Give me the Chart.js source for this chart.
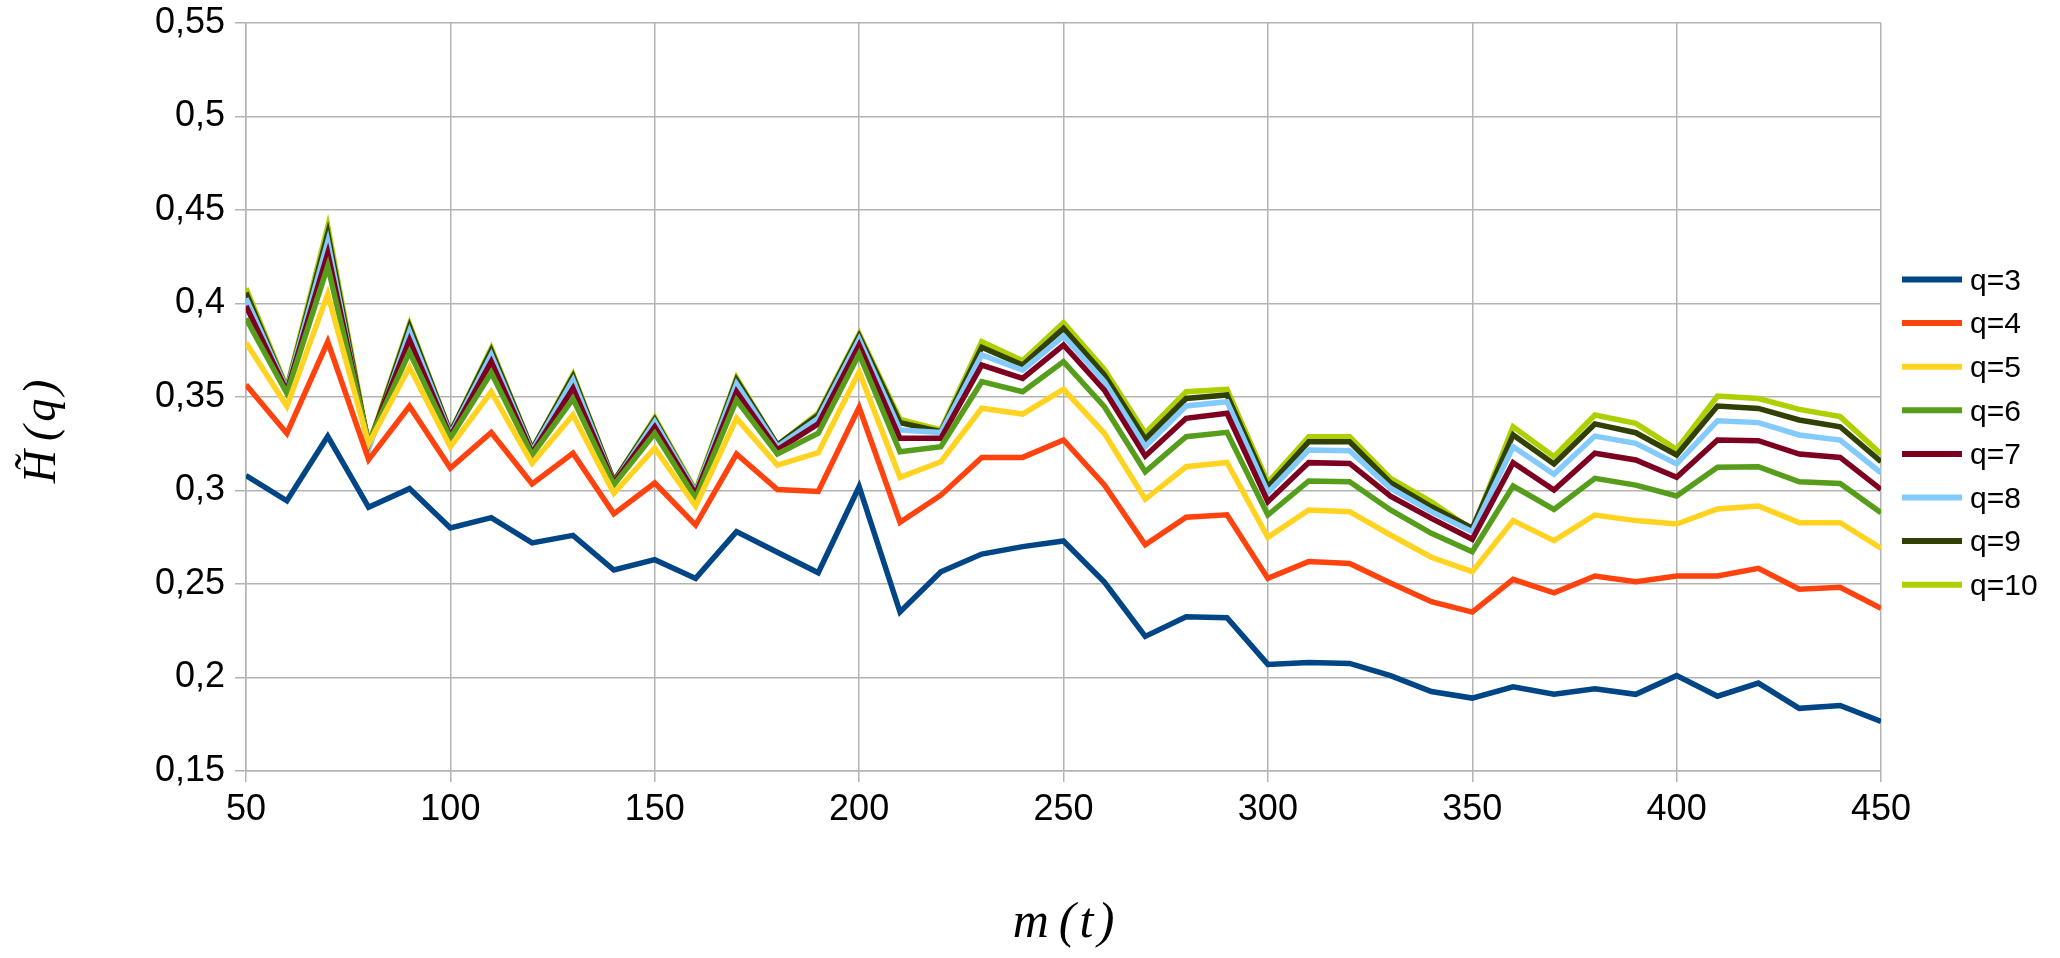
<!DOCTYPE html>
<html>
<head>
<meta charset="utf-8">
<script src="https://cdn.jsdelivr.net/npm/chart.js@4.4.1/dist/chart.umd.min.js"></script>
<style>
html,body{margin:0;padding:0;background:#fff;}
#wrap{position:relative;width:2060px;height:958px;}
</style>
</head>
<body>
<div id="wrap"><canvas id="c" width="2060" height="958"></canvas></div>
<script>
const mValues = [50,60,70,80,90,100,110,120,130,140,150,160,170,180,190,200,210,220,230,240,250,260,270,280,290,300,310,320,330,340,350,360,370,380,390,400,410,420,430,440,450];

const q3 = [0.308,0.2945,0.329,0.291,0.301,0.280,0.2855,0.272,0.276,0.2575,0.263,0.253,0.278,0.267,0.256,0.302,0.235,0.2565,0.266,0.270,0.273,0.251,0.222,0.2325,0.232,0.207,0.208,0.2075,0.201,0.1925,0.189,0.195,0.191,0.194,0.191,0.201,0.190,0.197,0.1835,0.185,0.1765];
const q4 = [0.3565,0.3305,0.3795,0.3165,0.345,0.312,0.331,0.3035,0.320,0.2875,0.304,0.2815,0.3195,0.3005,0.2995,0.3445,0.283,0.2975,0.3177,0.3177,0.327,0.303,0.271,0.2857,0.287,0.253,0.262,0.261,0.2505,0.2405,0.235,0.2525,0.2453,0.2543,0.2512,0.2543,0.2543,0.2584,0.2472,0.2482,0.237];
const q5 = [0.379,0.345,0.405,0.325,0.366,0.3234,0.3528,0.3146,0.3404,0.2985,0.3226,0.2917,0.3386,0.3136,0.3202,0.3635,0.307,0.3154,0.344,0.3409,0.3541,0.3306,0.2953,0.3127,0.315,0.275,0.2896,0.2887,0.2762,0.2643,0.2566,0.2839,0.2732,0.2869,0.2839,0.2821,0.2901,0.2917,0.2828,0.2828,0.2691];
const q6 = [0.392,0.352,0.420,0.326,0.374,0.328,0.363,0.319,0.349,0.303,0.3306,0.2958,0.3484,0.3195,0.3306,0.373,0.3207,0.3234,0.3582,0.3528,0.3689,0.3448,0.310,0.3288,0.3311,0.2869,0.3051,0.3047,0.2896,0.2771,0.2673,0.3024,0.2899,0.3065,0.3029,0.2971,0.3124,0.3127,0.3047,0.3038,0.2881];
const q7 = [0.3987,0.353,0.4268,0.325,0.3805,0.329,0.3689,0.320,0.3546,0.304,0.334,0.298,0.3528,0.3217,0.3356,0.3778,0.3279,0.3279,0.3671,0.360,0.3778,0.3537,0.3184,0.3386,0.3413,0.294,0.3149,0.3145,0.297,0.2851,0.2739,0.3149,0.3003,0.3199,0.3163,0.3071,0.327,0.3266,0.3195,0.3177,0.3006];
const q8 = [0.4028,0.354,0.433,0.322,0.385,0.330,0.3725,0.321,0.359,0.304,0.3368,0.299,0.357,0.3234,0.3386,0.3809,0.3324,0.331,0.3725,0.3644,0.3826,0.3582,0.3234,0.3452,0.3475,0.2988,0.3217,0.3213,0.3012,0.2887,0.278,0.3234,0.3087,0.3291,0.3252,0.3142,0.3373,0.3363,0.3297,0.327,0.3095];
const q9 = [0.4058,0.354,0.4375,0.323,0.3876,0.331,0.3748,0.322,0.361,0.305,0.338,0.299,0.3591,0.3243,0.3404,0.3826,0.3363,0.3314,0.3766,0.3671,0.3867,0.3618,0.3274,0.3492,0.3511,0.302,0.3261,0.3261,0.3042,0.2913,0.2798,0.3297,0.3142,0.3356,0.3309,0.319,0.3452,0.3439,0.3377,0.3341,0.3154];
const q10 = [0.4081,0.355,0.4411,0.324,0.389,0.331,0.376,0.322,0.362,0.305,0.339,0.300,0.3603,0.3243,0.3413,0.3837,0.338,0.3324,0.3796,0.3694,0.3897,0.3648,0.3306,0.3528,0.3541,0.3042,0.3288,0.3288,0.3065,0.294,0.279,0.3341,0.3181,0.3404,0.3359,0.322,0.3505,0.3492,0.3434,0.3395,0.3195];

const seriesNames = ['q=3','q=4','q=5','q=6','q=7','q=8','q=9','q=10'];
const seriesValues = [q3,q4,q5,q6,q7,q8,q9,q10];
const seriesColors = ['#004586','#ff420e','#ffd320','#579d1c','#7e0021','#83caff','#314004','#aecf00'];

const xTicks = [50,100,150,200,250,300,350,400,450];
const yTicks = [0.15,0.2,0.25,0.3,0.35,0.4,0.45,0.5,0.55];
const yTickLabels = ['0,15','0,2','0,25','0,3','0,35','0,4','0,45','0,5','0,55'];

const datasets = seriesNames.map((name, i) => ({
  label: name,
  data: mValues.map((m, j) => ({x: m, y: seriesValues[i][j]})),
  borderColor: seriesColors[i],
  backgroundColor: seriesColors[i],
  borderWidth: 5.5,
  pointRadius: 0,
  tension: 0,
  fill: false,
  borderJoinStyle: 'miter'
}));

const customLegend = {
  id: 'customLegend',
  afterDraw(chart) {
    const ctx = chart.ctx;
    ctx.save();
    ctx.font = '30px "Liberation Sans", Arial, sans-serif';
    ctx.textBaseline = 'middle';
    ctx.textAlign = 'left';
    chart.data.datasets.forEach((ds, i) => {
      const y = 279.5 + i * 43.6;
      ctx.strokeStyle = ds.borderColor;
      ctx.lineWidth = 6;
      ctx.beginPath();
      ctx.moveTo(1902, y);
      ctx.lineTo(1962, y);
      ctx.stroke();
      ctx.fillStyle = '#000';
      ctx.fillText(ds.label, 1970, y + 2);
    });
    ctx.restore();
  }
};

new Chart(document.getElementById('c'), {
  type: 'line',
  data: { datasets },
  plugins: [customLegend],
  options: {
    responsive: false,
    animation: false,
    layout: { padding: { left: 0, right: 179, top: 23, bottom: 0 } },
    plugins: { legend: { display: false }, tooltip: { enabled: false } },
    scales: {
      x: {
        type: 'linear',
        min: 50, max: 450,
        afterFit: s => { s.height = 187; s.paddingLeft = 0; s.paddingRight = 0; },
        afterBuildTicks: s => { s.ticks = xTicks.map(v => ({value: v})); },
        grid: { color: '#b3b3b3', lineWidth: 1.5, tickLength: 11, drawTicks: true },
        border: { color: '#b3b3b3', width: 1.5 },
        ticks: {
          color: '#000',
          font: { family: '"Liberation Sans", Arial, sans-serif', size: 36 },
          padding: 6,
          maxRotation: 0,
          callback: v => String(v)
        },
        title: {
          display: true,
          text: 'm\u2009(\u200At\u200A)',
          color: '#000',
          font: { family: '"Liberation Serif", "DejaVu Serif", serif', size: 50, style: 'italic' },
          padding: { top: 0, bottom: 4 }
        }
      },
      y: {
        type: 'linear',
        min: 0.15, max: 0.55,
        afterFit: s => { s.width = 246; s.paddingTop = 0; s.paddingBottom = 0; },
        afterBuildTicks: s => { s.ticks = yTicks.map(v => ({value: v})); },
        grid: { color: '#b3b3b3', lineWidth: 1.5, tickLength: 11 },
        border: { color: '#b3b3b3', width: 1.5 },
        ticks: {
          color: '#000',
          font: { family: '"Liberation Sans", Arial, sans-serif', size: 36 },
          padding: 10,
          callback: (v) => { const k = yTicks.findIndex(t => Math.abs(t - v) < 1e-9); return k >= 0 ? yTickLabels[k] : ''; }
        },
        title: {
          display: true,
          text: 'H\u0303\u2009(\u200Aq\u200A)      ',
          color: '#000',
          font: { family: '"Liberation Serif", "DejaVu Serif", serif', size: 46, style: 'italic' },
          padding: { top: 15, bottom: 0 }
        }
      }
    }
  }
});
</script>
</body>
</html>
